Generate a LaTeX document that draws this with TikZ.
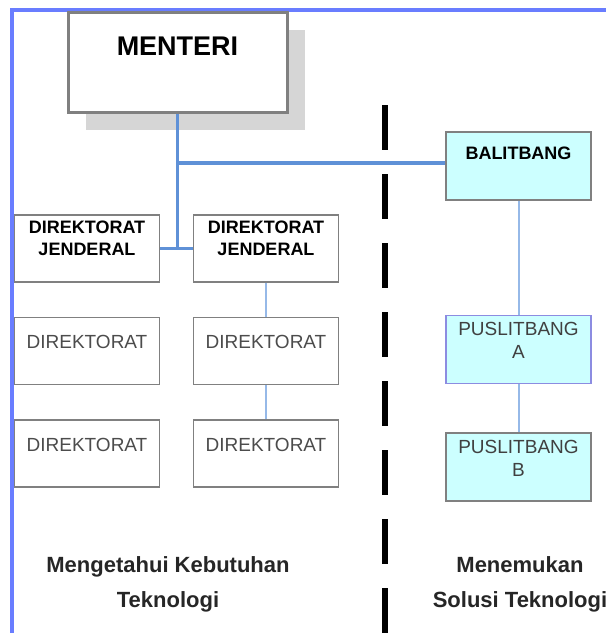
\documentclass[tikz,border=0pt]{standalone}
\usepackage{fontspec}
\setmainfont{Liberation Sans}
\usetikzlibrary{positioning,shadows}

\definecolor{framebl}{RGB}{105,125,255}
\definecolor{trunkbl}{RGB}{95,145,215}
\definecolor{linkbl}{RGB}{150,185,232}
\definecolor{palecyan}{RGB}{204,255,255}
\definecolor{boxgray}{RGB}{128,128,128}
\definecolor{pusedge}{RGB}{140,140,225}

\newcommand{\boxlines}[1]{\begin{tabular}[t]{@{}c@{}}#1\end{tabular}}

\begin{document}
\begin{tikzpicture}[x=1pt,y=-1pt,node distance=34pt,
    every node/.style={inner sep=0pt},
    unit/.style={draw=boxgray,line width=1.5pt,fill=white,minimum width=145pt},
    djbox/.style={unit,font=\bfseries\fontsize{18}{22}\selectfont,text height=18pt,text depth=49pt},
    dirbox/.style={unit,text=black!70,font=\fontsize{19}{22}\selectfont,text height=31pt,text depth=36pt},
    balitbox/.style={unit,fill=palecyan,font=\bfseries\fontsize{18}{22}\selectfont,text height=27pt,text depth=41pt},
    pusbox/.style={unit,fill=palecyan,text=black!75,font=\fontsize{19}{23}\selectfont,text height=20pt,text depth=48pt},
    trunk/.style={draw=trunkbl,line width=3.5pt},
    link/.style={draw=linkbl,line width=2pt},
    caption/.style={font=\bfseries\fontsize{22}{35}\selectfont,text=black!85,anchor=base}]
  \useasboundingbox (0,0) rectangle (606,633);

  % frame and divider
  \draw[framebl,line width=3.5pt] (606,10) -- (12,10) -- (12,633);
  \draw[black,line width=6pt,dash pattern=on 45pt off 24pt] (385,105) -- (385,640);

  % minister
  \node[unit,draw=gray,line width=3pt,minimum width=219pt,
        font=\bfseries\fontsize{27}{30}\selectfont,text height=43pt,text depth=57pt,
        drop shadow={shadow xshift=18pt,shadow yshift=-18pt,fill=black!16,opacity=1}]
        (menteri) at (177.5,62) {MENTERI};

  % left side
  \node[djbox] (dj1) at (87,248.5) {\boxlines{DIREKTORAT\\JENDERAL}};
  \node[djbox] (dj2) at (266,248.5) {\boxlines{DIREKTORAT\\JENDERAL}};
  \node[dirbox,below=of dj1] (dir1a) {DIREKTORAT};
  \node[dirbox,below=of dir1a] (dir1b) {DIREKTORAT};
  \node[dirbox,below=of dj2] (dir2a) {DIREKTORAT};
  \node[dirbox,below=of dir2a] (dir2b) {DIREKTORAT};

  % right side
  \node[balitbox] (balit) at (518.5,166) {BALITBANG};
  \node[pusbox,draw=pusedge,below=114pt of balit] (pusa) {\boxlines{PUSLITBANG\\A}};
  \node[pusbox,below=48pt of pusa] (pusb) {\boxlines{PUSLITBANG\\B}};

  % connectors
  \coordinate (hub) at (177.5,248.5);
  \coordinate (tee) at (177.5,163);
  \draw[trunk] (menteri) -- (hub);
  \draw[trunk] (dj1) -- (dj2);
  \draw[trunk] (tee) -- (tee -| balit.west);
  \draw[link] (dj2) -- (dir2a);
  \draw[link] (dir2a) -- (dir2b);
  \draw[link] (balit) -- (pusa);
  \draw[link] (pusa) -- (pusb);

  % captions
  \node[caption] (needs) at (168,572) {\boxlines{Mengetahui Kebutuhan\\Teknologi}};
  \node[caption] (solves) at (520,572) {\boxlines{Menemukan\\Solusi Teknologi}};
\end{tikzpicture}
\end{document}
